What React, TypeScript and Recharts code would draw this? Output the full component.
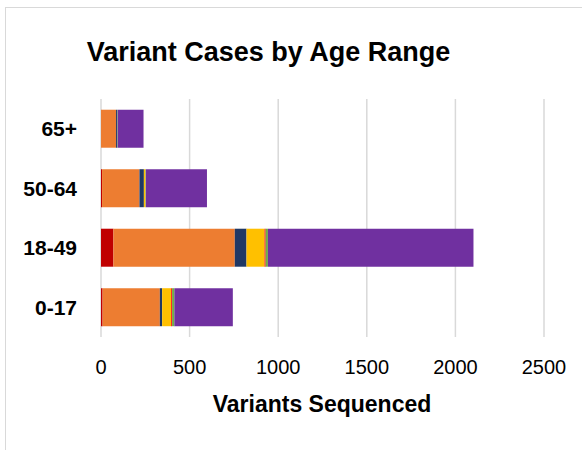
import { BarChart, Bar, XAxis, YAxis, CartesianGrid } from 'recharts';

// age groups, top to bottom as drawn
const ageRanges = ['65+', '50-64', '18-49', '0-17'];

// variant counts per age range (same order as ageRanges)
const variantA = [0, 6, 70, 9];
const variantB = [85, 211, 685, 323];
const variantC = [6, 25, 66, 13];
const variantD = [0, 9, 102, 51];
const variantE = [0, 0, 6, 5];
const variantF = [3, 2, 13, 13];
const variantG = [146, 345, 1160, 330];

const xTicks = [0, 500, 1000, 1500, 2000, 2500];

const seriesKeys = ['a', 'b', 'c', 'd', 'e', 'f', 'g'];
const seriesColors = ['#C00000', '#ED7D31', '#203864', '#FFC000', '#FF0000', '#70AD47', '#7030A0'];
const seriesValues = [variantA, variantB, variantC, variantD, variantE, variantF, variantG];

const data = ageRanges.map((age, i) => {
  const row: any = { age };
  seriesKeys.forEach((k, j) => { row[k] = seriesValues[j][i]; });
  return row;
});

const font = '"Liberation Sans", Arial, sans-serif';

export default function App() {
  return (
    <div style={{ position: 'fixed', left: 0, top: 0, width: 582, height: 450, background: '#fff', overflow: 'hidden', fontFamily: font }}>
      <div style={{ position: 'absolute', left: 5, top: 7, width: 620, height: 500, border: '1px solid #d9d9d9' }} />
      <div style={{ position: 'absolute', left: 0, top: 37, width: 537, textAlign: 'center', fontSize: 27, fontWeight: 'bold', color: '#000', whiteSpace: 'nowrap' }}>
        Variant Cases by Age Range
      </div>
      <BarChart
        width={582}
        height={450}
        data={data}
        layout="vertical"
        barCategoryGap="18%"
        margin={{ top: 99, right: 38, bottom: 83, left: 11 }}
        style={{ position: 'absolute', left: 0, top: 0 }}
      >
        <CartesianGrid horizontal={false} stroke="#d9d9d9" strokeWidth={1.5} />
        <XAxis
          type="number"
          domain={[0, 2500]}
          ticks={xTicks}
          height={30}
          tickLine={false}
          axisLine={false}
          tickSize={0}
          tickMargin={23}
          tick={{ fill: '#000', fontSize: 20, fontFamily: font }}
        />
        <YAxis
          type="category"
          dataKey="age"
          width={90}
          tickLine={false}
          axisLine={false}
          tickSize={0}
          tickMargin={24}
          tick={{ fill: '#000', fontSize: 21, fontWeight: 'bold', fontFamily: font }}
        />
        {seriesKeys.map((k, j) => (
          <Bar key={k} dataKey={k} stackId="s" fill={seriesColors[j]} isAnimationActive={false} />
        ))}
      </BarChart>
      <div style={{ position: 'absolute', left: 202, top: 391, width: 240, textAlign: 'center', fontSize: 23, fontWeight: 'bold', color: '#000', whiteSpace: 'nowrap' }}>
        Variants Sequenced
      </div>
    </div>
  );
}
